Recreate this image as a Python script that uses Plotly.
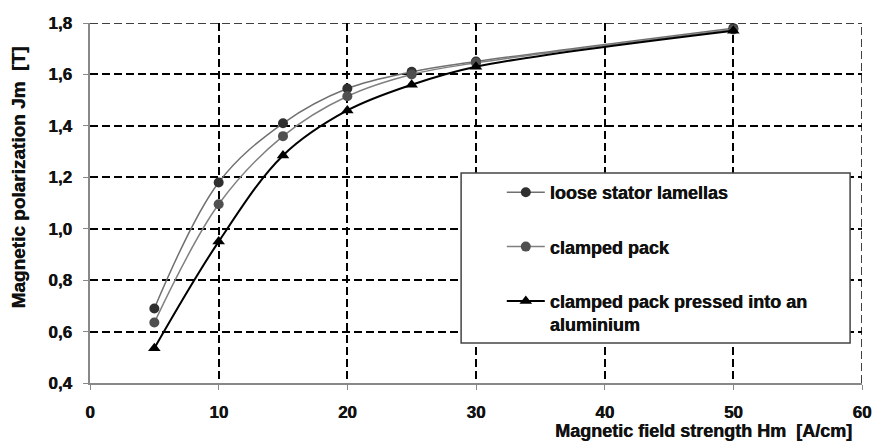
import plotly.graph_objects as go

H = [5, 10, 15, 20, 25, 30, 50]
loose = [0.69, 1.18, 1.41, 1.545, 1.61, 1.65, 1.78]
clamped = [0.635, 1.095, 1.36, 1.515, 1.60, 1.645, 1.775]
alum = [0.535, 0.95, 1.285, 1.46, 1.56, 1.63, 1.77]

names = ["loose stator lamellas", "clamped pack", "clamped pack pressed into an<br>aluminium"]
x_ticks = [0, 10, 20, 30, 40, 50, 60]
y_ticks = [0.4, 0.6, 0.8, 1.0, 1.2, 1.4, 1.6, 1.8]
x_range = [0, 60]
y_range = [0.4, 1.8]

W, Hh = 883, 442
L, R, T, B = 90, 15, 23, 59
pw, ph = W - L - R, Hh - T - B

def px(xp):
    return (xp - L) / pw

def py(yp):
    return (Hh - B - yp) / ph

FONT = "Liberation Sans, Arial"
SH = "0.5px 0px 0px #111111"
fig = go.Figure()
fig.add_trace(go.Scatter(x=H, y=loose, name=names[0], mode="lines+markers",
                         line=dict(color="#707070", width=1.5, shape="spline"),
                         marker=dict(symbol="circle", size=10, color="#303030"),
                         legendgroup="a"))
fig.add_trace(go.Scatter(x=H, y=clamped, name=names[1], mode="lines+markers",
                         line=dict(color="#808080", width=1.5, shape="spline"),
                         marker=dict(symbol="circle", size=10, color="#505050"),
                         legendgroup="b"))
fig.add_trace(go.Scatter(x=H, y=alum, name=names[2], mode="lines+markers",
                         line=dict(color="#000000", width=2, shape="spline"),
                         marker=dict(symbol="triangle-up", size=11, color="#000000"),
                         legendgroup="c"))

tickfont = dict(family=FONT, size=17, color="#111111", weight="bold", shadow=SH)
dash = "8px,4px"
fig.update_layout(
    width=W, height=Hh,
    margin=dict(l=L, r=R, t=T, b=B),
    paper_bgcolor="white", plot_bgcolor="white",
    separators=",.",
    font=dict(family=FONT, color="#111111"),
    xaxis=dict(range=x_range, tickvals=x_ticks, showgrid=True, gridcolor="#000000",
               gridwidth=1.5, griddash=dash, showline=True, linecolor="#888888",
               linewidth=1.5, ticks="outside", ticklen=5, tickcolor="#888888",
               tickfont=tickfont, ticklabelstandoff=8, zeroline=False),
    yaxis=dict(range=y_range, tickvals=y_ticks, tickformat=".1f", showgrid=True,
               gridcolor="#000000", gridwidth=1.5, griddash=dash, showline=True,
               linecolor="#888888", linewidth=1.5, ticks="outside", ticklen=5,
               tickcolor="#888888", tickfont=tickfont, ticklabelstandoff=8,
               zeroline=False),
    showlegend=True,
    legend=dict(x=px(505), y=py(174), xanchor="left", yanchor="top",
                bgcolor="rgba(0,0,0,0)", borderwidth=0, itemwidth=38,
                font=dict(family=FONT, size=18, color="#111111", weight="bold", shadow=SH),
                traceorder="grouped", tracegroupgap=28, valign="top"),
    shapes=[
        dict(type="line", xref="x", yref="y", x0=x_range[0], x1=x_range[1],
             y0=y_range[1], y1=y_range[1], line=dict(color="#000000", width=1.5, dash=dash),
             layer="below"),
        dict(type="line", xref="x", yref="y", x0=x_range[1], x1=x_range[1],
             y0=y_range[0], y1=y_range[1], line=dict(color="#000000", width=1.5, dash=dash),
             layer="below"),
        dict(type="rect", xref="paper", yref="paper", x0=px(464), x1=px(856),
             y0=py(343), y1=py(173), fillcolor="white", line=dict(color="#444444", width=1.5),
             layer="above"),
    ],
    annotations=[
        dict(text="Magnetic field strength Hm  [A/cm]", xref="paper", yref="paper",
             x=px(860), y=py(431), xanchor="right", yanchor="middle", showarrow=False,
             font=dict(size=18, family=FONT, color="#111111", weight="bold", shadow=SH)),
        dict(text="Magnetic polarization Jm  [T]", xref="paper", yref="paper",
             x=px(17), y=py(178), xanchor="center", yanchor="middle", showarrow=False,
             textangle=-90, font=dict(size=19, family=FONT, color="#111111", weight="bold", shadow=SH)),
    ],
)

fig.write_html("out.html")
